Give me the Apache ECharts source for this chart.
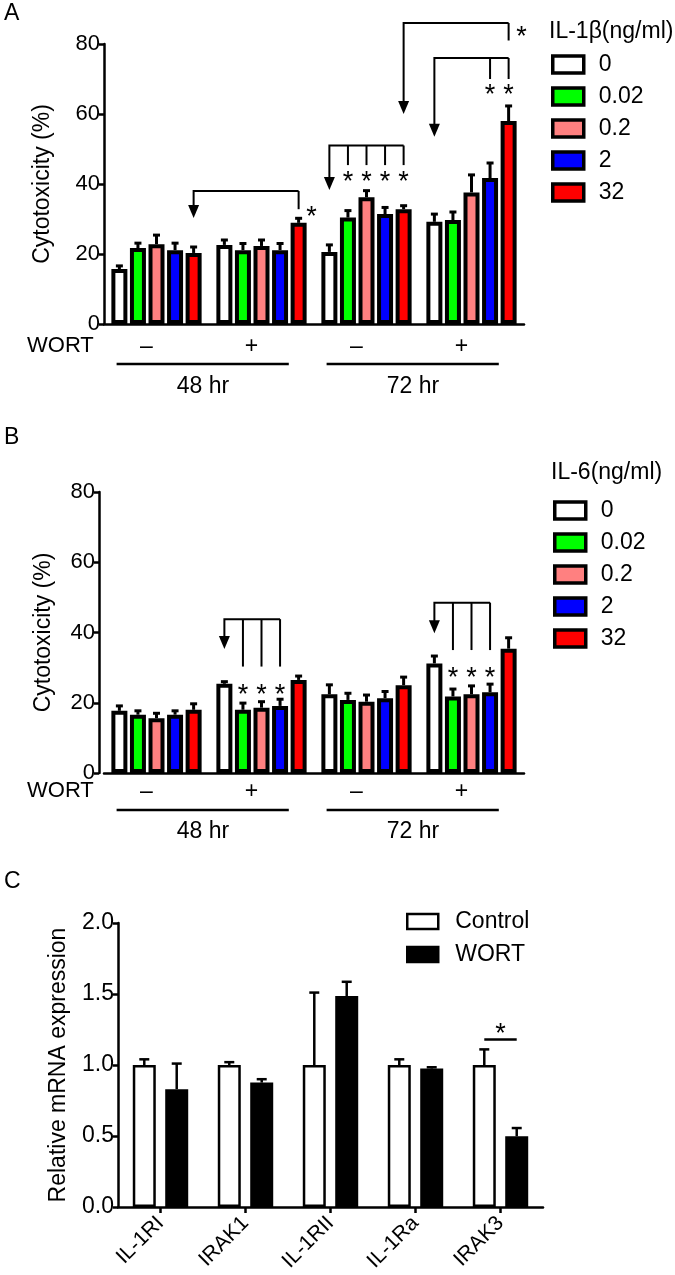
<!DOCTYPE html>
<html><head><meta charset="utf-8">
<script src="https://cdn.jsdelivr.net/npm/echarts@6/dist/echarts.min.js"></script>
<style>html,body{margin:0;padding:0;background:#fff}#c{width:675px;height:1275px}</style>
</head><body><div id="c"></div>
<script>
// ---------- categories ----------
const groupLabels = ['–', '+', '–', '+'];
const timeLabels = ['48 hr', '72 hr'];
const doses = ['0', '0.02', '0.2', '2', '32'];
const doseColors = ['#ffffff', '#00ff00', '#ff8080', '#0000ff', '#ff0000'];
const genes = ['IL-1RI', 'IRAK1', 'IL-1RII', 'IL-1Ra', 'IRAK3'];
const yTicksAB = [0, 20, 40, 60, 80];

// ---------- Panel A: IL-1β, mean per dose across [48-, 48+, 72-, 72+] ----------
const il1bMean0    = [15.7, 22.6, 20.6, 29.2];
const il1bMean002  = [21.7, 21.1, 30.4, 29.7];
const il1bMean02   = [22.8, 22.3, 36.2, 37.6];
const il1bMean2    = [21.1, 21.1, 31.4, 41.7];
const il1bMean32   = [20.3, 28.9, 32.8, 58.0];
const il1bSem0     = [0.9, 1.4, 2.0, 2.2];
const il1bSem002   = [1.4, 1.9, 2.0, 2.3];
const il1bSem02    = [2.6, 1.7, 1.9, 5.0];
const il1bSem2     = [2.0, 1.9, 1.9, 4.3];
const il1bSem32    = [1.7, 1.3, 1.0, 4.3];

// ---------- Panel B: IL-6 ----------
const il6Mean0   = [17.7, 25.4, 22.4, 31.2];
const il6Mean002 = [16.6, 18.0, 20.8, 21.8];
const il6Mean02  = [15.6, 18.6, 20.3, 22.4];
const il6Mean2   = [16.6, 19.1, 21.3, 23.0];
const il6Mean32  = [18.0, 26.5, 25.0, 35.4];
const il6Sem0    = [1.4, 0.6, 2.7, 2.1];
const il6Sem002  = [1.1, 1.9, 1.9, 2.1];
const il6Sem02   = [1.4, 1.7, 1.9, 2.4];
const il6Sem2    = [1.1, 1.9, 1.9, 2.3];
const il6Sem32   = [1.7, 1.1, 2.3, 3.1];

// ---------- Panel C: relative mRNA ----------
const ctrlMean = [1.0, 1.0, 1.0, 1.0, 1.0];
const ctrlSem  = [0.04, 0.02, 0.51, 0.04, 0.11];
const wortMean = [0.83, 0.876, 1.486, 0.975, 0.498];
const wortSem  = [0.18, 0.024, 0.10, 0.009, 0.058];

// ---------- significance annotations (data units: [group, bar], y values) ----------
const il1bBrackets = [
  {from: [0, 4], tip: 30.3, top: 38, to: [[1, 4]], end: 32.8},
  {from: [2, 0], tip: 38.3, top: 51, to: [[2, 1], [2, 2], [2, 3], [2, 4]], end: 45.4},
  {from: [3, 0], tip: 53.5, top: 76, to: [[3, 3], [3, 4]], end: 70},
  {from: [2, 4], tip: 60, top: 86, to: [[3, 4]], end: 81}
];
const il1bStars = [[1, 4, 32, 1], [2, 1, 42, 0], [2, 2, 42, 0], [2, 3, 42, 0], [2, 4, 42, 0], [3, 3, 67, 0], [3, 4, 67, 0], [3, 4, 83.5, 1]];
const il6Brackets = [
  {from: [1, 0], tip: 35.3, top: 43.8, to: [[1, 1], [1, 2], [1, 3]], end: 30.3},
  {from: [3, 0], tip: 39.8, top: 48.5, to: [[3, 1], [3, 2], [3, 3]], end: 35}
];
const il6Stars = [[1, 1, 23.7, 0], [1, 2, 23.7, 0], [1, 3, 23.7, 0], [3, 1, 28.6, 0], [3, 2, 28.6, 0], [3, 3, 28.6, 0]];
const mrnaSig = {cat: 4, line: 1.18, star: 1.26};

// ---------- build ----------
const il1bMeans = [il1bMean0, il1bMean002, il1bMean02, il1bMean2, il1bMean32];
const il1bSems  = [il1bSem0, il1bSem002, il1bSem02, il1bSem2, il1bSem32];
const il6Means  = [il6Mean0, il6Mean002, il6Mean02, il6Mean2, il6Mean32];
const il6Sems   = [il6Sem0, il6Sem002, il6Sem02, il6Sem2, il6Sem32];

const FONT = '"Liberation Sans", Arial, sans-serif';
const BAR_W = 16, BAR_GAP = 0.16, PITCH = BAR_W * (1 + BAR_GAP);
const BAR_WC = 23, BAR_GAPC = 0.41, PITCHC = BAR_WC * (1 + BAR_GAPC);
const black = '#000';

function errRender(pitch, nBars, cap, lw) {
  return function (params, api) {
    const g = api.value(0), b = api.value(1), m = api.value(2), s = api.value(3);
    const p0 = api.coord([g, m]), p1 = api.coord([g, m + s]);
    const x = p0[0] + (b - (nBars - 1) / 2) * pitch;
    const st = {stroke: black, lineWidth: lw};
    return {type: 'group', children: [
      {type: 'line', shape: {x1: x, y1: p0[1], x2: x, y2: p1[1]}, style: st},
      {type: 'line', shape: {x1: x - cap, y1: p1[1], x2: x + cap, y2: p1[1]}, style: st}
    ]};
  };
}
function errData(means, sems) {
  const out = [];
  means.forEach((arr, b) => arr.forEach((m, g) => out.push([g, b, m, sems[b][g]])));
  return out;
}
function annoRender(brackets, stars, lineDrop) {
  return function (params, api) {
    const band = api.size([1, 0])[0];
    const px = (g, b, v) => { const p = api.coord([g, v]); return [p[0] + (b - 2) * PITCH, p[1]]; };
    const st = {stroke: black, lineWidth: 2, fill: null};
    const ch = [];
    brackets.forEach(br => {
      const a = px(br.from[0], br.from[1], br.top);
      const tip = px(br.from[0], br.from[1], br.tip);
      const last = br.to[br.to.length - 1];
      const r = px(last[0], last[1], br.top);
      ch.push({type: 'polyline', shape: {points: [[a[0], tip[1] - 10], [a[0], a[1]], [r[0], r[1]]]}, style: st});
      br.to.forEach(t => {
        const p0 = px(t[0], t[1], br.top), p1 = px(t[0], t[1], br.end);
        ch.push({type: 'line', shape: {x1: p0[0], y1: p0[1], x2: p1[0], y2: p1[1]}, style: st});
      });
      ch.push({type: 'polygon', shape: {points: [[tip[0] - 5.5, tip[1] - 13], [tip[0] + 5.5, tip[1] - 13], [tip[0], tip[1]]]}, style: {fill: black}});
    });
    stars.forEach(s => {
      const p = px(s[0], s[1], s[2]);
      ch.push({type: 'text', x: p[0] + (s[3] ? 13 : 0), y: p[1] + 6,
        style: {text: '*', font: '27px ' + FONT, fill: black, align: 'center', verticalAlign: 'middle'}});
    });
    // time-group underlines
    const y0 = api.coord([0, 0])[1] + lineDrop;
    for (let k = 0; k < 2; k++) {
      const xa = api.coord([2 * k, 0])[0] - 0.38 * band;
      const xb = api.coord([2 * k + 1, 0])[0] + 0.26 * band;
      ch.push({type: 'line', shape: {x1: xa, y1: y0, x2: xb, y2: y0}, style: {stroke: black, lineWidth: 2.5}});
    }
    return {type: 'group', children: ch};
  };
}
function sigRender(params, api) {
  const c = api.coord([mrnaSig.cat, mrnaSig.line]);
  const s = api.coord([mrnaSig.cat, mrnaSig.star]);
  return {type: 'group', children: [
    {type: 'line', shape: {x1: c[0] - PITCHC / 2, y1: c[1], x2: c[0] + PITCHC / 2, y2: c[1]}, style: {stroke: black, lineWidth: 2.5}},
    {type: 'text', x: s[0], y: s[1] + 6, style: {text: '*', font: '27px ' + FONT, fill: black, align: 'center', verticalAlign: 'middle'}}
  ]};
}

function yAxisAB(gi, nameGap, offset) {
  return {
    type: 'value', gridIndex: gi, min: 0, max: 80, interval: 20, offset: offset,
    name: 'Cytotoxicity (%)', nameLocation: 'middle', nameGap: nameGap,
    nameTextStyle: {fontSize: 23, color: black, fontFamily: FONT},
    axisLine: {show: true, lineStyle: {color: black, width: 2.5}},
    axisTick: {show: true, length: 5, lineStyle: {color: black, width: 2.5}},
    axisLabel: {color: black, fontSize: 22, margin: 4, fontFamily: FONT,
      formatter: v => yTicksAB.includes(v) ? String(v) : ''},
    splitLine: {show: false}
  };
}
function xAxisGroups(gi, margin) {
  return {
    type: 'category', gridIndex: gi, data: groupLabels,
    axisLine: {show: true, lineStyle: {color: black, width: 2.5}},
    axisTick: {show: false},
    axisLabel: {color: black, fontSize: 23, margin: margin, fontFamily: FONT, padding: [0, 20, 0, 0]}
  };
}
function xAxisTime(gi, offset) {
  return {
    type: 'category', gridIndex: gi, data: timeLabels, position: 'bottom', offset: offset,
    axisLine: {show: false}, axisTick: {show: false},
    axisLabel: {color: black, fontSize: 23, margin: 8, fontFamily: FONT, padding: [0, 12, 0, 0]}
  };
}

const series = [];
doses.forEach((d, i) => {
  series.push({type: 'bar', name: d, xAxisIndex: 0, yAxisIndex: 0, data: il1bMeans[i],
    barWidth: BAR_W, barGap: (BAR_GAP * 100) + '%', silent: true,
    itemStyle: {color: doseColors[i], borderColor: black, borderWidth: 4}});
});
doses.forEach((d, i) => {
  series.push({type: 'bar', name: d, xAxisIndex: 2, yAxisIndex: 1, data: il6Means[i],
    barWidth: BAR_W, barGap: (BAR_GAP * 100) + '%', silent: true,
    itemStyle: {color: doseColors[i], borderColor: black, borderWidth: 4}});
});
series.push({type: 'custom', xAxisIndex: 0, yAxisIndex: 0, z: 5, silent: true, clip: false,
  encode: {x: 0, y: 2}, data: errData(il1bMeans, il1bSems), renderItem: errRender(PITCH, 5, 3.5, 3)});
series.push({type: 'custom', xAxisIndex: 2, yAxisIndex: 1, z: 5, silent: true, clip: false,
  encode: {x: 0, y: 2}, data: errData(il6Means, il6Sems), renderItem: errRender(PITCH, 5, 3.5, 3)});
series.push({type: 'custom', xAxisIndex: 0, yAxisIndex: 0, z: 6, silent: true, clip: false,
  data: [[0, 0]], renderItem: annoRender(il1bBrackets, il1bStars, 40)});
series.push({type: 'custom', xAxisIndex: 2, yAxisIndex: 1, z: 6, silent: true, clip: false,
  data: [[0, 0]], renderItem: annoRender(il6Brackets, il6Stars, 37)});

series.push({type: 'bar', name: 'Control', xAxisIndex: 4, yAxisIndex: 2, data: ctrlMean,
  barWidth: BAR_WC, barGap: (BAR_GAPC * 100) + '%', silent: true,
  itemStyle: {color: '#ffffff', borderColor: black, borderWidth: 2.5}});
series.push({type: 'bar', name: 'WORT', xAxisIndex: 4, yAxisIndex: 2, data: wortMean,
  barWidth: BAR_WC, barGap: (BAR_GAPC * 100) + '%', silent: true,
  itemStyle: {color: black, borderColor: black, borderWidth: 2.5}});
series.push({type: 'custom', xAxisIndex: 4, yAxisIndex: 2, z: 5, silent: true, clip: false,
  encode: {x: 0, y: 2}, data: errData([ctrlMean, wortMean], [ctrlSem, wortSem]), renderItem: errRender(PITCHC, 2, 5, 2.5)});
series.push({type: 'custom', xAxisIndex: 4, yAxisIndex: 2, z: 6, silent: true, clip: false,
  data: [[0, 0]], renderItem: sigRender});

function legendAB(top, left) {
  return {
    data: doses, orient: 'vertical', left: left, top: top, padding: 0, itemGap: 9,
    itemWidth: 31, itemHeight: 17, icon: 'rect', selectedMode: false,
    itemStyle: {borderColor: black, borderWidth: 3.5},
    textStyle: {fontSize: 23, color: black, fontFamily: FONT, padding: [0, 0, 0, 10]}
  };
}

const option = {
  backgroundColor: '#fff',
  animation: false,
  grid: [
    {left: 104, top: 44, width: 420, height: 280},
    {left: 104, top: 492, width: 420, height: 281},
    {left: 118, top: 923, width: 425, height: 284}
  ],
  xAxis: [
    xAxisGroups(0, 11), xAxisTime(0, 43),
    xAxisGroups(1, 7), xAxisTime(1, 39),
    {type: 'category', gridIndex: 2, data: genes,
      axisLine: {show: true, lineStyle: {color: black, width: 2.5}},
      axisTick: {show: true, alignWithLabel: true, length: 6, lineStyle: {color: black, width: 2.5}},
      axisLabel: {color: black, fontSize: 21, rotate: 45, margin: 13, fontFamily: FONT}}
  ],
  yAxis: [
    yAxisAB(0, 50, 0),
    yAxisAB(1, 44, 5),
    {type: 'value', gridIndex: 2, min: 0, max: 2, interval: 0.5,
      name: 'Relative mRNA expression', nameLocation: 'middle', nameGap: 48,
      nameTextStyle: {fontSize: 23, color: black, fontFamily: FONT},
      axisLine: {show: true, lineStyle: {color: black, width: 2.5}},
      axisTick: {show: true, length: 5, lineStyle: {color: black, width: 2.5}},
      axisLabel: {color: black, fontSize: 23, margin: 4, fontFamily: FONT, formatter: v => v.toFixed(1)},
      splitLine: {show: false}}
  ],
  legend: [
    legendAB(53, 551),
    legendAB(499, 553),
    {data: ['Control', 'WORT'], orient: 'vertical', left: 406, top: 910, padding: 0, itemGap: 10,
      itemWidth: 31, itemHeight: 15, icon: 'rect', selectedMode: false,
      itemStyle: {borderColor: black, borderWidth: 2.5},
      textStyle: {fontSize: 23, color: black, fontFamily: FONT, padding: [0, 0, 0, 12]}}
  ],
  graphic: [
    {type: 'text', left: 4, top: 2, style: {text: 'A', font: '23px ' + FONT, fill: black}},
    {type: 'text', left: 4, top: 426, style: {text: 'B', font: '23px ' + FONT, fill: black}},
    {type: 'text', left: 4, top: 870, style: {text: 'C', font: '23px ' + FONT, fill: black}},
    {type: 'text', left: 549, top: 20, style: {text: 'IL-1β(ng/ml)', font: '23px ' + FONT, fill: black}},
    {type: 'text', left: 551, top: 461, style: {text: 'IL-6(ng/ml)', font: '23px ' + FONT, fill: black}},
    {type: 'text', left: 27, top: 335, style: {text: 'WORT', font: '22px ' + FONT, fill: black}},
    {type: 'text', left: 27, top: 780, style: {text: 'WORT', font: '22px ' + FONT, fill: black}}
  ],
  series: series
};
const chart = echarts.init(document.getElementById('c'), null, {renderer: 'canvas', width: 675, height: 1275});
chart.setOption(option);
</script>
</body></html>
